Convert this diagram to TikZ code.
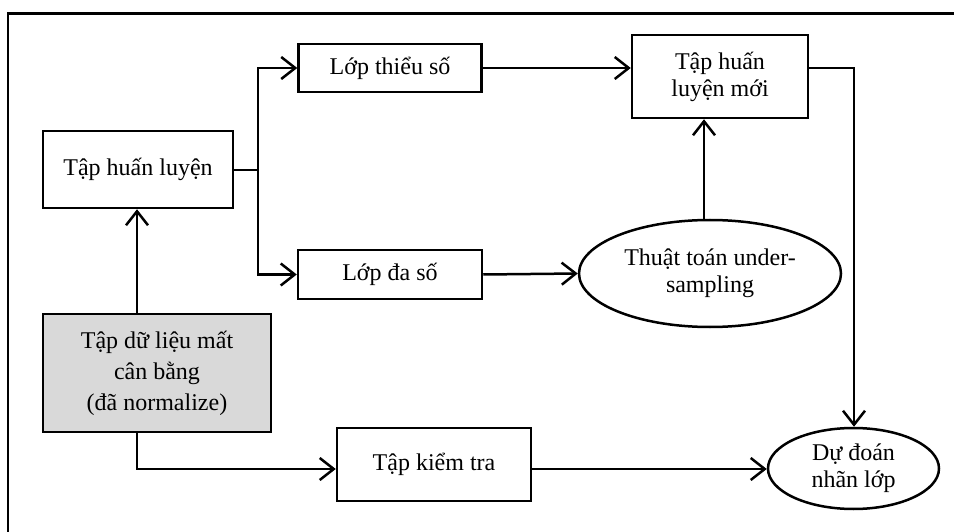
\documentclass[tikz,border=0pt]{standalone}
\usepackage{fontspec}
\setmainfont{Liberation Serif}
\usetikzlibrary{arrows.meta,shapes.geometric}
\definecolor{boxgray}{HTML}{D9D9D9}
\begin{document}
\begin{tikzpicture}[x=1pt,y=-1pt,
  every node/.style={font=\fontsize{24}{27}\selectfont, align=center, inner sep=0pt},
  box/.style={draw, line width=2.5pt, rectangle},
  oval/.style={draw, line width=2.5pt, ellipse},
  conn/.style={line width=2.5pt},
  arr/.style={conn, -{Straight Barb[length=14pt,width=22pt,line width=2.5pt]}}]
\useasboundingbox (0,0) rectangle (954,532);
\draw[line width=2.6pt] (8,532) -- (8,13.5) -- (954,13.5);

\node[box, minimum width=190pt, minimum height=77pt] (thl) at (138,169.5) {Tập huấn luyện};
\node[box, minimum width=183pt, minimum height=48pt] (thieu) at (390,68) {Lớp thiểu số};
\node[box, minimum width=184pt, minimum height=49pt] (daso) at (390,274.5) {Lớp đa số};
\node[box, minimum width=176pt, minimum height=83pt] (moi) at (720,76.5) {Tập huấn\\luyện mới};
\node[oval, minimum width=262pt, minimum height=107pt] (algo) at (710,273.5) {Thuật toán under-\\sampling};
\node[box, fill=boxgray, minimum width=228pt, minimum height=118pt, font=\fontsize{24}{31}\selectfont] (gray) at (157,373) {Tập dữ liệu mất\\cân bằng\\(đã normalize)};
\node[box, minimum width=194pt, minimum height=73pt] (kt) at (434,464.5) {Tập kiểm tra};
\node[oval, minimum width=171pt, minimum height=81pt] (dd) at (853.5,468.5) {Dự đoán\\nhãn lớp};

\coordinate (br) at (258,170);
\coordinate (c1) at (854,68);
\coordinate (c2) at (137,469);
\coordinate (c3) at (704,200);

\draw[conn] (thl.east |- br) -- (br);
\draw[arr] (br) |- (thieu.west);
\draw[arr] (br) |- (daso.west);
\draw[arr] (thieu.east) -- (thieu.east -| moi.west);
\draw[arr] (c1 -| moi.east) -- (c1) -- (c1 |- dd.north);
\draw[arr] (daso.east) -- (algo.west);
\draw[arr] (c3 |- algo.north) -- (c3 |- moi.south);
\draw[arr] (gray.north -| c2) -- (c2 |- thl.south);
\draw[arr] (gray.south -| c2) -- (c2) -- (c2 -| kt.west);
\draw[arr] (kt.east |- c2) -- (c2 -| dd.west);
\end{tikzpicture}
\end{document}
